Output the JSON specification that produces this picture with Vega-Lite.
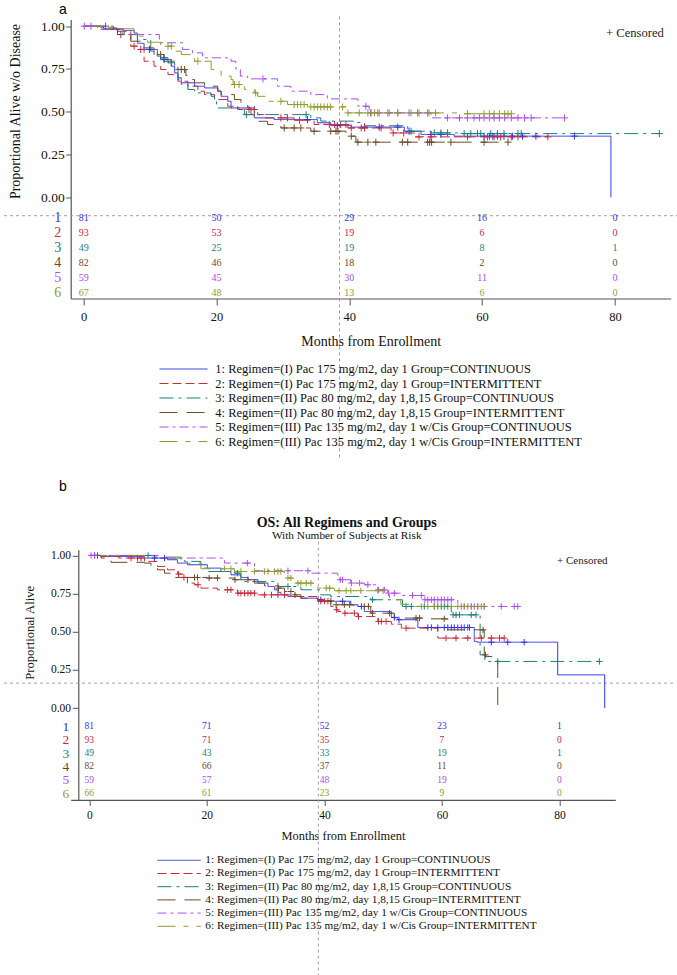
{
"$schema":"https://vega.github.io/schema/vega-lite/v6.json",
"background":"white",
"padding":{"left":2.7,"top":1.5,"right":0,"bottom":0},
"config":{"view":{"stroke":null},"axis":{"grid":false,"domainColor":"#555","tickColor":"#555","labelColor":"#111","titleColor":"#111","labelFont":"Liberation Serif","titleFont":"Liberation Serif","titleFontWeight":"normal","labelFlush":false,"labelOverlap":false},"text":{"font":"Liberation Serif"}},
"datasets":{
"riskA":[{"g":1,"t":0,"n":81},{"g":1,"t":20,"n":50},{"g":1,"t":40,"n":29},{"g":1,"t":60,"n":16},{"g":1,"t":80,"n":0},
{"g":2,"t":0,"n":93},{"g":2,"t":20,"n":53},{"g":2,"t":40,"n":19},{"g":2,"t":60,"n":6},{"g":2,"t":80,"n":0},
{"g":3,"t":0,"n":49},{"g":3,"t":20,"n":25},{"g":3,"t":40,"n":19},{"g":3,"t":60,"n":8},{"g":3,"t":80,"n":1},
{"g":4,"t":0,"n":82},{"g":4,"t":20,"n":46},{"g":4,"t":40,"n":18},{"g":4,"t":60,"n":2},{"g":4,"t":80,"n":0},
{"g":5,"t":0,"n":59},{"g":5,"t":20,"n":45},{"g":5,"t":40,"n":30},{"g":5,"t":60,"n":11},{"g":5,"t":80,"n":0},
{"g":6,"t":0,"n":67},{"g":6,"t":20,"n":48},{"g":6,"t":40,"n":13},{"g":6,"t":60,"n":6},{"g":6,"t":80,"n":0}],
"riskB":[{"g":1,"t":0,"n":81},{"g":1,"t":20,"n":71},{"g":1,"t":40,"n":52},{"g":1,"t":60,"n":23},{"g":1,"t":80,"n":1},
{"g":2,"t":0,"n":93},{"g":2,"t":20,"n":71},{"g":2,"t":40,"n":35},{"g":2,"t":60,"n":7},{"g":2,"t":80,"n":0},
{"g":3,"t":0,"n":49},{"g":3,"t":20,"n":43},{"g":3,"t":40,"n":33},{"g":3,"t":60,"n":19},{"g":3,"t":80,"n":1},
{"g":4,"t":0,"n":82},{"g":4,"t":20,"n":66},{"g":4,"t":40,"n":37},{"g":4,"t":60,"n":11},{"g":4,"t":80,"n":0},
{"g":5,"t":0,"n":59},{"g":5,"t":20,"n":57},{"g":5,"t":40,"n":48},{"g":5,"t":60,"n":19},{"g":5,"t":80,"n":0},
{"g":6,"t":0,"n":66},{"g":6,"t":20,"n":61},{"g":6,"t":40,"n":23},{"g":6,"t":60,"n":9},{"g":6,"t":80,"n":0}],
"kmA":[
{"g":1,"t":0,"s":1},{"g":1,"t":3,"s":0.985},{"g":1,"t":6,"s":0.975},{"g":1,"t":7.6,"s":0.96},{"g":1,"t":8.1,"s":0.9},{"g":1,"t":9.1,"s":0.864},{"g":1,"t":9.9,"s":0.864,"c":1},{"g":1,"t":11.1,"s":0.825},{"g":1,"t":11.6,"s":0.805},{"g":1,"t":12.1,"s":0.805,"c":1},{"g":1,"t":13.2,"s":0.766},{"g":1,"t":13.7,"s":0.727},{"g":1,"t":14.2,"s":0.698},{"g":1,"t":14.7,"s":0.669},{"g":1,"t":16.7,"s":0.649},{"g":1,"t":18.2,"s":0.639},{"g":1,"t":20.2,"s":0.62},{"g":1,"t":20.7,"s":0.59},{"g":1,"t":21.7,"s":0.561},{"g":1,"t":22.2,"s":0.522},{"g":1,"t":25.7,"s":0.464},{"g":1,"t":28.7,"s":0.454},{"g":1,"t":33.7,"s":0.454,"c":1},{"g":1,"t":35.2,"s":0.435},{"g":1,"t":37.2,"s":0.419},{"g":1,"t":38.2,"s":0.419,"c":1},{"g":1,"t":40.3,"s":0.41},{"g":1,"t":42.3,"s":0.41,"c":1},{"g":1,"t":44.5,"s":0.41,"c":1},{"g":1,"t":47.3,"s":0.41,"c":1},{"g":1,"t":48.3,"s":0.386},{"g":1,"t":49,"s":0.386,"c":1},{"g":1,"t":50.8,"s":0.367},{"g":1,"t":52.3,"s":0.367,"c":1},{"g":1,"t":53.8,"s":0.367,"c":1},{"g":1,"t":55.8,"s":0.357},{"g":1,"t":60.3,"s":0.357,"c":1},{"g":1,"t":61.1,"s":0.357,"c":1},{"g":1,"t":61.6,"s":0.357,"c":1},{"g":1,"t":62.3,"s":0.357,"c":1},{"g":1,"t":63.3,"s":0.357,"c":1},{"g":1,"t":64.6,"s":0.357,"c":1},{"g":1,"t":66.1,"s":0.357,"c":1},{"g":1,"t":68.1,"s":0.357,"c":1},{"g":1,"t":73.9,"s":0.357,"c":1},{"g":1,"t":79.4,"s":0},
{"g":2,"t":0,"s":1},{"g":2,"t":2.6,"s":0.99},{"g":2,"t":5.1,"s":0.97},{"g":2,"t":7.1,"s":0.883},{"g":2,"t":7.6,"s":0.883,"c":1},{"g":2,"t":8.1,"s":0.864},{"g":2,"t":8.6,"s":0.864,"c":1},{"g":2,"t":9.1,"s":0.795},{"g":2,"t":10.6,"s":0.766},{"g":2,"t":11.6,"s":0.747},{"g":2,"t":12.7,"s":0.717},{"g":2,"t":14.2,"s":0.678},{"g":2,"t":15.7,"s":0.649},{"g":2,"t":17.2,"s":0.62},{"g":2,"t":18.2,"s":0.6},{"g":2,"t":19.7,"s":0.571},{"g":2,"t":21.7,"s":0.532},{"g":2,"t":23.2,"s":0.513},{"g":2,"t":24.9,"s":0.513,"c":1},{"g":2,"t":25.7,"s":0.513,"c":1},{"g":2,"t":26.2,"s":0.483},{"g":2,"t":27.2,"s":0.464},{"g":2,"t":29.7,"s":0.464,"c":1},{"g":2,"t":30.7,"s":0.464,"c":1},{"g":2,"t":31.7,"s":0.45},{"g":2,"t":32.5,"s":0.45,"c":1},{"g":2,"t":34.7,"s":0.425},{"g":2,"t":37,"s":0.425,"c":1},{"g":2,"t":37.8,"s":0.425,"c":1},{"g":2,"t":38.7,"s":0.425,"c":1},{"g":2,"t":39.5,"s":0.425,"c":1},{"g":2,"t":39.8,"s":0.405},{"g":2,"t":40.3,"s":0.405,"c":1},{"g":2,"t":41.8,"s":0.405,"c":1},{"g":2,"t":42.3,"s":0.405,"c":1},{"g":2,"t":44.8,"s":0.405,"c":1},{"g":2,"t":46.3,"s":0.376},{"g":2,"t":46.6,"s":0.376,"c":1},{"g":2,"t":48.2,"s":0.376,"c":1},{"g":2,"t":49.8,"s":0.353},{"g":2,"t":50.5,"s":0.353,"c":1},{"g":2,"t":52.3,"s":0.353,"c":1},{"g":2,"t":57.8,"s":0.353,"c":1},{"g":2,"t":60.8,"s":0.353,"c":1},{"g":2,"t":61.8,"s":0.353,"c":1},{"g":2,"t":62.8,"s":0.353,"c":1},{"g":2,"t":64.4,"s":0.353,"c":1},{"g":2,"t":65.4,"s":0.353,"c":1},{"g":2,"t":69.9,"s":0.353,"c":1},
{"g":3,"t":0,"s":1},{"g":3,"t":3.3,"s":1,"c":1},{"g":3,"t":4.5,"s":0.98},{"g":3,"t":6.1,"s":0.951},{"g":3,"t":8.1,"s":0.922},{"g":3,"t":10.1,"s":0.854},{"g":3,"t":11.1,"s":0.815},{"g":3,"t":12.1,"s":0.815,"c":1},{"g":3,"t":12.7,"s":0.786},{"g":3,"t":13.2,"s":0.786,"c":1},{"g":3,"t":13.7,"s":0.747},{"g":3,"t":14.2,"s":0.688},{"g":3,"t":14.7,"s":0.659},{"g":3,"t":15.7,"s":0.63},{"g":3,"t":16.7,"s":0.61},{"g":3,"t":19.2,"s":0.59},{"g":3,"t":19.7,"s":0.561},{"g":3,"t":20,"s":0.522},{"g":3,"t":24.2,"s":0.483},{"g":3,"t":24.5,"s":0.483,"c":1},{"g":3,"t":33.5,"s":0.483,"c":1},{"g":3,"t":34.2,"s":0.464},{"g":3,"t":35.7,"s":0.445},{"g":3,"t":40.8,"s":0.437},{"g":3,"t":42.3,"s":0.418},{"g":3,"t":48.8,"s":0.386},{"g":3,"t":49.3,"s":0.386,"c":1},{"g":3,"t":52.3,"s":0.376},{"g":3,"t":52.8,"s":0.376,"c":1},{"g":3,"t":53.8,"s":0.376,"c":1},{"g":3,"t":54.8,"s":0.376,"c":1},{"g":3,"t":56.3,"s":0.372},{"g":3,"t":57.3,"s":0.372,"c":1},{"g":3,"t":58.3,"s":0.372,"c":1},{"g":3,"t":59.3,"s":0.372,"c":1},{"g":3,"t":59.8,"s":0.372,"c":1},{"g":3,"t":61.3,"s":0.372,"c":1},{"g":3,"t":62.3,"s":0.372,"c":1},{"g":3,"t":63.3,"s":0.372,"c":1},{"g":3,"t":65.4,"s":0.372,"c":1},{"g":3,"t":65.9,"s":0.372,"c":1},{"g":3,"t":86.7,"s":0.372,"c":1},
{"g":4,"t":0,"s":1},{"g":4,"t":2.6,"s":0.981},{"g":4,"t":5.1,"s":0.951},{"g":4,"t":5.6,"s":0.951,"c":1},{"g":4,"t":7.1,"s":0.912},{"g":4,"t":8.6,"s":0.873},{"g":4,"t":10.6,"s":0.834},{"g":4,"t":11.6,"s":0.834,"c":1},{"g":4,"t":12.1,"s":0.795},{"g":4,"t":13.7,"s":0.776},{"g":4,"t":14.2,"s":0.747},{"g":4,"t":14.7,"s":0.747,"c":1},{"g":4,"t":15.2,"s":0.747,"c":1},{"g":4,"t":15.4,"s":0.712},{"g":4,"t":15.7,"s":0.688},{"g":4,"t":16.7,"s":0.669},{"g":4,"t":18.2,"s":0.649},{"g":4,"t":20.2,"s":0.62},{"g":4,"t":20.7,"s":0.6},{"g":4,"t":22.7,"s":0.571},{"g":4,"t":23.7,"s":0.542},{"g":4,"t":24.7,"s":0.522},{"g":4,"t":25.2,"s":0.483},{"g":4,"t":25.7,"s":0.444},{"g":4,"t":27.7,"s":0.425},{"g":4,"t":29.7,"s":0.405},{"g":4,"t":30.2,"s":0.405,"c":1},{"g":4,"t":31.7,"s":0.405,"c":1},{"g":4,"t":32.7,"s":0.405,"c":1},{"g":4,"t":34.2,"s":0.386},{"g":4,"t":34.7,"s":0.386,"c":1},{"g":4,"t":37.2,"s":0.386,"c":1},{"g":4,"t":38,"s":0.386,"c":1},{"g":4,"t":38.3,"s":0.386,"c":1},{"g":4,"t":39.5,"s":0.357},{"g":4,"t":40.3,"s":0.357,"c":1},{"g":4,"t":41,"s":0.322},{"g":4,"t":41.3,"s":0.322,"c":1},{"g":4,"t":42.8,"s":0.322,"c":1},{"g":4,"t":44,"s":0.322,"c":1},{"g":4,"t":48,"s":0.322,"c":1},{"g":4,"t":48.8,"s":0.322,"c":1},{"g":4,"t":51.8,"s":0.322,"c":1},{"g":4,"t":52.1,"s":0.322,"c":1},{"g":4,"t":52.4,"s":0.322,"c":1},{"g":4,"t":55.3,"s":0.322,"c":1},{"g":4,"t":60.3,"s":0.322,"c":1},{"g":4,"t":63.9,"s":0.322,"c":1},
{"g":5,"t":0,"s":1},{"g":5,"t":0.1,"s":1,"c":1},{"g":5,"t":1.1,"s":1,"c":1},{"g":5,"t":2.1,"s":0.981},{"g":5,"t":5.9,"s":0.951},{"g":5,"t":11.4,"s":0.903},{"g":5,"t":14.9,"s":0.864},{"g":5,"t":16.4,"s":0.844},{"g":5,"t":17.9,"s":0.815},{"g":5,"t":22.2,"s":0.795},{"g":5,"t":22.9,"s":0.75},{"g":5,"t":23.6,"s":0.708},{"g":5,"t":24.7,"s":0.692},{"g":5,"t":27,"s":0.692,"c":1},{"g":5,"t":29.2,"s":0.649},{"g":5,"t":31.2,"s":0.62},{"g":5,"t":34.2,"s":0.6},{"g":5,"t":36.7,"s":0.575},{"g":5,"t":41.3,"s":0.532},{"g":5,"t":42.5,"s":0.532,"c":1},{"g":5,"t":43,"s":0.493},{"g":5,"t":43.2,"s":0.493,"c":1},{"g":5,"t":44.3,"s":0.493,"c":1},{"g":5,"t":46,"s":0.493,"c":1},{"g":5,"t":47.3,"s":0.493,"c":1},{"g":5,"t":49,"s":0.493,"c":1},{"g":5,"t":50.3,"s":0.493,"c":1},{"g":5,"t":51.8,"s":0.493,"c":1},{"g":5,"t":52.3,"s":0.464},{"g":5,"t":54.8,"s":0.464,"c":1},{"g":5,"t":56.6,"s":0.464,"c":1},{"g":5,"t":57.8,"s":0.464,"c":1},{"g":5,"t":58.8,"s":0.464,"c":1},{"g":5,"t":59.6,"s":0.464,"c":1},{"g":5,"t":60.3,"s":0.464,"c":1},{"g":5,"t":61.1,"s":0.464,"c":1},{"g":5,"t":61.8,"s":0.464,"c":1},{"g":5,"t":62.6,"s":0.464,"c":1},{"g":5,"t":63.4,"s":0.464,"c":1},{"g":5,"t":64.4,"s":0.464,"c":1},{"g":5,"t":65.4,"s":0.464,"c":1},{"g":5,"t":66.4,"s":0.464,"c":1},{"g":5,"t":67.4,"s":0.464,"c":1},{"g":5,"t":72.4,"s":0.464,"c":1},
{"g":6,"t":0,"s":1},{"g":6,"t":2.6,"s":0.985},{"g":6,"t":7.6,"s":0.942},{"g":6,"t":9.6,"s":0.906},{"g":6,"t":11.6,"s":0.883},{"g":6,"t":12.7,"s":0.883,"c":1},{"g":6,"t":13.2,"s":0.883,"c":1},{"g":6,"t":13.7,"s":0.854},{"g":6,"t":14.7,"s":0.834},{"g":6,"t":16.7,"s":0.795},{"g":6,"t":17.2,"s":0.795,"c":1},{"g":6,"t":19.2,"s":0.747},{"g":6,"t":20.7,"s":0.708},{"g":6,"t":22.2,"s":0.688},{"g":6,"t":22.5,"s":0.659},{"g":6,"t":22.7,"s":0.659,"c":1},{"g":6,"t":23.4,"s":0.659,"c":1},{"g":6,"t":24.2,"s":0.63},{"g":6,"t":25.7,"s":0.61},{"g":6,"t":25.9,"s":0.61,"c":1},{"g":6,"t":26.2,"s":0.59},{"g":6,"t":27.7,"s":0.561},{"g":6,"t":29.7,"s":0.561,"c":1},{"g":6,"t":30.7,"s":0.542},{"g":6,"t":31.7,"s":0.542,"c":1},{"g":6,"t":32.2,"s":0.542,"c":1},{"g":6,"t":32.7,"s":0.542,"c":1},{"g":6,"t":33.2,"s":0.542,"c":1},{"g":6,"t":33.7,"s":0.528},{"g":6,"t":34.2,"s":0.528,"c":1},{"g":6,"t":34.7,"s":0.528,"c":1},{"g":6,"t":35.2,"s":0.528,"c":1},{"g":6,"t":35.7,"s":0.528,"c":1},{"g":6,"t":36.2,"s":0.528,"c":1},{"g":6,"t":36.7,"s":0.528,"c":1},{"g":6,"t":37.2,"s":0.528,"c":1},{"g":6,"t":39,"s":0.528,"c":1},{"g":6,"t":39.5,"s":0.493},{"g":6,"t":39.8,"s":0.493,"c":1},{"g":6,"t":41.5,"s":0.493,"c":1},{"g":6,"t":42.8,"s":0.493,"c":1},{"g":6,"t":43.3,"s":0.493,"c":1},{"g":6,"t":43.8,"s":0.493,"c":1},{"g":6,"t":44.5,"s":0.493,"c":1},{"g":6,"t":45.8,"s":0.493,"c":1},{"g":6,"t":47.3,"s":0.493,"c":1},{"g":6,"t":49.3,"s":0.493,"c":1},{"g":6,"t":50.5,"s":0.493,"c":1},{"g":6,"t":52,"s":0.493,"c":1},{"g":6,"t":53,"s":0.493,"c":1},{"g":6,"t":56.3,"s":0.488},{"g":6,"t":57.8,"s":0.488,"c":1},{"g":6,"t":60.3,"s":0.488,"c":1},{"g":6,"t":61.1,"s":0.488,"c":1},{"g":6,"t":61.8,"s":0.488,"c":1},{"g":6,"t":62.6,"s":0.488,"c":1},{"g":6,"t":63.4,"s":0.488,"c":1},{"g":6,"t":63.9,"s":0.488,"c":1},{"g":6,"t":64.4,"s":0.488,"c":1}],
"kmB":[
{"g":1,"t":0,"s":1},{"g":1,"t":2,"s":0.993},{"g":1,"t":9.4,"s":0.983},{"g":1,"t":11.1,"s":0.983,"c":1},{"g":1,"t":12.8,"s":0.983,"c":1},{"g":1,"t":13.3,"s":0.972},{"g":1,"t":15,"s":0.95},{"g":1,"t":16.7,"s":0.939},{"g":1,"t":20.1,"s":0.917},{"g":1,"t":22.4,"s":0.895},{"g":1,"t":24.1,"s":0.873},{"g":1,"t":25.8,"s":0.856},{"g":1,"t":27,"s":0.841},{"g":1,"t":28.7,"s":0.819},{"g":1,"t":30.4,"s":0.797},{"g":1,"t":31.5,"s":0.775},{"g":1,"t":32.1,"s":0.758},{"g":1,"t":32.6,"s":0.742},{"g":1,"t":33.8,"s":0.731},{"g":1,"t":36,"s":0.72},{"g":1,"t":38.9,"s":0.71},{"g":1,"t":39.4,"s":0.71,"c":1},{"g":1,"t":39.8,"s":0.7},{"g":1,"t":43.1,"s":0.7,"c":1},{"g":1,"t":44.5,"s":0.677},{"g":1,"t":45.7,"s":0.666},{"g":1,"t":46.3,"s":0.666,"c":1},{"g":1,"t":46.8,"s":0.633},{"g":1,"t":51.4,"s":0.594},{"g":1,"t":51.9,"s":0.594,"c":1},{"g":1,"t":52.5,"s":0.579},{"g":1,"t":52.7,"s":0.579,"c":1},{"g":1,"t":55.9,"s":0.528},{"g":1,"t":57.6,"s":0.528,"c":1},{"g":1,"t":58.2,"s":0.528,"c":1},{"g":1,"t":59.3,"s":0.528,"c":1},{"g":1,"t":60.4,"s":0.528,"c":1},{"g":1,"t":61,"s":0.528,"c":1},{"g":1,"t":61.6,"s":0.528,"c":1},{"g":1,"t":62.1,"s":0.528,"c":1},{"g":1,"t":62.7,"s":0.528,"c":1},{"g":1,"t":63.3,"s":0.528,"c":1},{"g":1,"t":63.8,"s":0.528,"c":1},{"g":1,"t":64.4,"s":0.528,"c":1},{"g":1,"t":64.7,"s":0.528,"c":1},{"g":1,"t":65.5,"s":0.437},{"g":1,"t":66,"s":0.432},{"g":1,"t":68.4,"s":0.432,"c":1},{"g":1,"t":71.2,"s":0.432,"c":1},{"g":1,"t":74,"s":0.432,"c":1},{"g":1,"t":79.7,"s":0.218},{"g":1,"t":87.7,"s":0},
{"g":2,"t":0,"s":1},{"g":2,"t":2,"s":0.993},{"g":2,"t":5,"s":0.983},{"g":2,"t":7.1,"s":0.983,"c":1},{"g":2,"t":8.2,"s":0.983,"c":1},{"g":2,"t":8.8,"s":0.983,"c":1},{"g":2,"t":9.4,"s":0.961},{"g":2,"t":11.6,"s":0.928},{"g":2,"t":13.3,"s":0.906},{"g":2,"t":15,"s":0.878},{"g":2,"t":15.2,"s":0.878,"c":1},{"g":2,"t":15.9,"s":0.856},{"g":2,"t":16.1,"s":0.856,"c":1},{"g":2,"t":16.7,"s":0.819},{"g":2,"t":17.9,"s":0.808},{"g":2,"t":18.5,"s":0.808,"c":1},{"g":2,"t":19,"s":0.786},{"g":2,"t":21.8,"s":0.775},{"g":2,"t":23.5,"s":0.775,"c":1},{"g":2,"t":24.1,"s":0.775,"c":1},{"g":2,"t":25.2,"s":0.753},{"g":2,"t":25.3,"s":0.753,"c":1},{"g":2,"t":25.8,"s":0.753,"c":1},{"g":2,"t":26.4,"s":0.753,"c":1},{"g":2,"t":27,"s":0.753,"c":1},{"g":2,"t":27.5,"s":0.753,"c":1},{"g":2,"t":28.1,"s":0.753,"c":1},{"g":2,"t":28.5,"s":0.742},{"g":2,"t":29.8,"s":0.742,"c":1},{"g":2,"t":31,"s":0.742,"c":1},{"g":2,"t":32.1,"s":0.742,"c":1},{"g":2,"t":33.2,"s":0.742,"c":1},{"g":2,"t":34.3,"s":0.731},{"g":2,"t":38.9,"s":0.7},{"g":2,"t":39.4,"s":0.7,"c":1},{"g":2,"t":40,"s":0.7,"c":1},{"g":2,"t":40.6,"s":0.7,"c":1},{"g":2,"t":41.1,"s":0.666},{"g":2,"t":42,"s":0.644},{"g":2,"t":42.1,"s":0.644,"c":1},{"g":2,"t":42.3,"s":0.633},{"g":2,"t":43.4,"s":0.622},{"g":2,"t":43.5,"s":0.622,"c":1},{"g":2,"t":45.1,"s":0.622,"c":1},{"g":2,"t":45.7,"s":0.6},{"g":2,"t":45.8,"s":0.6,"c":1},{"g":2,"t":49.1,"s":0.568},{"g":2,"t":49.2,"s":0.568,"c":1},{"g":2,"t":49.7,"s":0.568,"c":1},{"g":2,"t":50.5,"s":0.568,"c":1},{"g":2,"t":51.4,"s":0.55},{"g":2,"t":53.1,"s":0.524},{"g":2,"t":53.9,"s":0.524,"c":1},{"g":2,"t":59.3,"s":0.459},{"g":2,"t":60.7,"s":0.459,"c":1},{"g":2,"t":62.4,"s":0.459,"c":1},{"g":2,"t":64.4,"s":0.459,"c":1},{"g":2,"t":66.7,"s":0.459,"c":1},{"g":2,"t":68.4,"s":0.459,"c":1},{"g":2,"t":69.8,"s":0.459,"c":1},{"g":2,"t":70.6,"s":0.459,"c":1},
{"g":3,"t":0,"s":1},{"g":3,"t":10,"s":1,"c":1},{"g":3,"t":11.1,"s":0.983},{"g":3,"t":16.2,"s":0.961},{"g":3,"t":19,"s":0.917},{"g":3,"t":20.1,"s":0.895},{"g":3,"t":24.7,"s":0.884},{"g":3,"t":25.2,"s":0.884,"c":1},{"g":3,"t":25.8,"s":0.83},{"g":3,"t":32.1,"s":0.797},{"g":3,"t":33.8,"s":0.797,"c":1},{"g":3,"t":36,"s":0.775},{"g":3,"t":39.4,"s":0.742},{"g":3,"t":41.1,"s":0.731},{"g":3,"t":47.9,"s":0.71},{"g":3,"t":48.2,"s":0.71,"c":1},{"g":3,"t":53.3,"s":0.666},{"g":3,"t":53.9,"s":0.666,"c":1},{"g":3,"t":54.8,"s":0.666,"c":1},{"g":3,"t":57,"s":0.666,"c":1},{"g":3,"t":58.7,"s":0.666,"c":1},{"g":3,"t":59.3,"s":0.666,"c":1},{"g":3,"t":59.9,"s":0.666,"c":1},{"g":3,"t":60.4,"s":0.666,"c":1},{"g":3,"t":61,"s":0.666,"c":1},{"g":3,"t":61.6,"s":0.611},{"g":3,"t":61.9,"s":0.611,"c":1},{"g":3,"t":62.4,"s":0.611,"c":1},{"g":3,"t":63,"s":0.611,"c":1},{"g":3,"t":65,"s":0.611,"c":1},{"g":3,"t":65.8,"s":0.611,"c":1},{"g":3,"t":66.5,"s":0.349},{"g":3,"t":67.3,"s":0.306},{"g":3,"t":69.5,"s":0.306,"c":1},{"g":3,"t":86.8,"s":0.306,"c":1},
{"g":4,"t":0,"s":1},{"g":4,"t":0.9,"s":1,"c":1},{"g":4,"t":1.4,"s":1,"c":1},{"g":4,"t":2,"s":0.983},{"g":4,"t":3.7,"s":0.955},{"g":4,"t":9.4,"s":0.95},{"g":4,"t":10.5,"s":0.928},{"g":4,"t":11.6,"s":0.906},{"g":4,"t":12.8,"s":0.884},{"g":4,"t":13.9,"s":0.862},{"g":4,"t":14.5,"s":0.856},{"g":4,"t":17.9,"s":0.856,"c":1},{"g":4,"t":18.4,"s":0.856,"c":1},{"g":4,"t":20.1,"s":0.852},{"g":4,"t":20.4,"s":0.852,"c":1},{"g":4,"t":21.8,"s":0.852,"c":1},{"g":4,"t":24.7,"s":0.841},{"g":4,"t":24.8,"s":0.841,"c":1},{"g":4,"t":27,"s":0.841,"c":1},{"g":4,"t":28.1,"s":0.819},{"g":4,"t":29.8,"s":0.801},{"g":4,"t":32.1,"s":0.786},{"g":4,"t":32.2,"s":0.786,"c":1},{"g":4,"t":33.2,"s":0.764},{"g":4,"t":34.3,"s":0.764,"c":1},{"g":4,"t":34.9,"s":0.742},{"g":4,"t":35,"s":0.742,"c":1},{"g":4,"t":36,"s":0.72},{"g":4,"t":38.9,"s":0.703},{"g":4,"t":41.1,"s":0.703,"c":1},{"g":4,"t":41.7,"s":0.677},{"g":4,"t":42,"s":0.677,"c":1},{"g":4,"t":43.4,"s":0.677,"c":1},{"g":4,"t":44.3,"s":0.677,"c":1},{"g":4,"t":45,"s":0.666},{"g":4,"t":46.8,"s":0.666,"c":1},{"g":4,"t":47.5,"s":0.666,"c":1},{"g":4,"t":47.9,"s":0.622},{"g":4,"t":48.2,"s":0.622,"c":1},{"g":4,"t":51.1,"s":0.622,"c":1},{"g":4,"t":51.9,"s":0.59},{"g":4,"t":55.6,"s":0.59,"c":1},{"g":4,"t":56.2,"s":0.59,"c":1},{"g":4,"t":57,"s":0.585},{"g":4,"t":60.4,"s":0.585,"c":1},{"g":4,"t":61,"s":0.513},{"g":4,"t":67,"s":0.513,"c":1},{"g":4,"t":67.2,"s":0.349},{"g":4,"t":67.4,"s":0.349,"c":1},{"g":4,"t":67.5,"s":0.338},{"g":4,"t":69.5,"s":0},
{"g":5,"t":0,"s":1},{"g":5,"t":0.3,"s":1,"c":1},{"g":5,"t":0.9,"s":1,"c":1},{"g":5,"t":12,"s":0.983},{"g":5,"t":23,"s":0.95},{"g":5,"t":26.9,"s":0.95,"c":1},{"g":5,"t":28.1,"s":0.9},{"g":5,"t":33.8,"s":0.9,"c":1},{"g":5,"t":37.2,"s":0.9,"c":1},{"g":5,"t":37.7,"s":0.884},{"g":5,"t":42.3,"s":0.862},{"g":5,"t":42.6,"s":0.841},{"g":5,"t":42.7,"s":0.841,"c":1},{"g":5,"t":43.1,"s":0.841,"c":1},{"g":5,"t":44.5,"s":0.819},{"g":5,"t":44.6,"s":0.819,"c":1},{"g":5,"t":46,"s":0.819,"c":1},{"g":5,"t":46.8,"s":0.808},{"g":5,"t":47.4,"s":0.808,"c":1},{"g":5,"t":49.1,"s":0.775},{"g":5,"t":49.2,"s":0.775,"c":1},{"g":5,"t":50.2,"s":0.775,"c":1},{"g":5,"t":50.8,"s":0.753},{"g":5,"t":50.9,"s":0.753,"c":1},{"g":5,"t":51.9,"s":0.753,"c":1},{"g":5,"t":53.3,"s":0.738},{"g":5,"t":55,"s":0.738,"c":1},{"g":5,"t":56.5,"s":0.738,"c":1},{"g":5,"t":57,"s":0.71},{"g":5,"t":57.1,"s":0.71,"c":1},{"g":5,"t":57.6,"s":0.71,"c":1},{"g":5,"t":58.2,"s":0.71,"c":1},{"g":5,"t":58.7,"s":0.71,"c":1},{"g":5,"t":59.3,"s":0.71,"c":1},{"g":5,"t":59.9,"s":0.71,"c":1},{"g":5,"t":60.4,"s":0.71,"c":1},{"g":5,"t":61,"s":0.71,"c":1},{"g":5,"t":61.6,"s":0.71,"c":1},{"g":5,"t":62.7,"s":0.666},{"g":5,"t":63.3,"s":0.666,"c":1},{"g":5,"t":63.8,"s":0.666,"c":1},{"g":5,"t":64.4,"s":0.666,"c":1},{"g":5,"t":65,"s":0.666,"c":1},{"g":5,"t":65.5,"s":0.666,"c":1},{"g":5,"t":66.1,"s":0.666,"c":1},{"g":5,"t":66.7,"s":0.666,"c":1},{"g":5,"t":67.2,"s":0.666,"c":1},{"g":5,"t":70.1,"s":0.666,"c":1},{"g":5,"t":72.3,"s":0.666,"c":1},{"g":5,"t":72.9,"s":0.666,"c":1},
{"g":6,"t":0,"s":1},{"g":6,"t":9.4,"s":0.99},{"g":6,"t":15.6,"s":0.972},{"g":6,"t":16.7,"s":0.95},{"g":6,"t":19,"s":0.913},{"g":6,"t":23,"s":0.913,"c":1},{"g":6,"t":24.1,"s":0.913,"c":1},{"g":6,"t":24.7,"s":0.895},{"g":6,"t":25.8,"s":0.895,"c":1},{"g":6,"t":28.1,"s":0.895,"c":1},{"g":6,"t":29.8,"s":0.895,"c":1},{"g":6,"t":30.4,"s":0.895,"c":1},{"g":6,"t":31.5,"s":0.895,"c":1},{"g":6,"t":32.1,"s":0.895,"c":1},{"g":6,"t":32.6,"s":0.895,"c":1},{"g":6,"t":33.2,"s":0.852},{"g":6,"t":33.8,"s":0.852,"c":1},{"g":6,"t":34.3,"s":0.852,"c":1},{"g":6,"t":34.9,"s":0.819},{"g":6,"t":35.5,"s":0.819,"c":1},{"g":6,"t":36,"s":0.819,"c":1},{"g":6,"t":36.9,"s":0.819,"c":1},{"g":6,"t":37.7,"s":0.819,"c":1},{"g":6,"t":38.9,"s":0.786},{"g":6,"t":40.3,"s":0.786,"c":1},{"g":6,"t":40.9,"s":0.786,"c":1},{"g":6,"t":41.7,"s":0.769},{"g":6,"t":42.5,"s":0.769,"c":1},{"g":6,"t":43.7,"s":0.769,"c":1},{"g":6,"t":44.5,"s":0.769,"c":1},{"g":6,"t":46.2,"s":0.769,"c":1},{"g":6,"t":49.1,"s":0.769,"c":1},{"g":6,"t":50,"s":0.769,"c":1},{"g":6,"t":50.5,"s":0.742},{"g":6,"t":51.1,"s":0.71},{"g":6,"t":53,"s":0.68},{"g":6,"t":55,"s":0.666},{"g":6,"t":56.5,"s":0.666,"c":1},{"g":6,"t":57.6,"s":0.666,"c":1},{"g":6,"t":58.7,"s":0.666,"c":1},{"g":6,"t":59.9,"s":0.666,"c":1},{"g":6,"t":61.6,"s":0.666,"c":1},{"g":6,"t":62.7,"s":0.666,"c":1},{"g":6,"t":63.8,"s":0.666,"c":1},{"g":6,"t":65,"s":0.666,"c":1},{"g":6,"t":66.1,"s":0.666,"c":1},{"g":6,"t":67.2,"s":0.666,"c":1}]
},
"bounds":"flush",
"spacing":251.3,
"resolve":{"scale":{"x":"independent","y":"independent","color":"independent","strokeDash":"independent"},"axis":{"x":"independent","y":"independent"},"legend":{"color":"independent","strokeDash":"independent"}},
"vconcat":[
{
"width":600,"height":279,
"resolve":{"scale":{"y":"independent"},"axis":{"y":"independent"}},
"layer":[
{"layer":[
{"data":{"values":[{}]},"mark":{"type":"rule","stroke":"#a0a0a0","strokeDash":[3,3],"strokeWidth":1},"encoding":{"x":{"datum":38.53,"type":"quantitative"},"y":{"datum":1.057,"type":"quantitative"},"y2":{"datum":-1.522}}},
{"data":{"values":[{}]},"mark":{"type":"rule","stroke":"#a0a0a0","strokeDash":[3,3],"strokeWidth":1},"encoding":{"x":{"datum":-12,"type":"quantitative"},"x2":{"datum":89.4},"y":{"datum":-0.108,"type":"quantitative"}}},
{"data":{"name":"kmA"},"mark":{"type":"line","interpolate":"step-after","strokeWidth":1},
"encoding":{
"x":{"field":"t","type":"quantitative","scale":{"domain":[-1.95,88.4],"nice":false,"zero":false},"axis":{"values":[0,20,40,60,80],"title":"Months from Enrollment","titleFontSize":14,"labelFontSize":12.5,"tickSize":6.5,"labelPadding":5.5,"titlePadding":11,"domainWidth":1.2}},
"y":{"field":"s","type":"quantitative","scale":{"domain":[-0.592,1.039],"nice":false,"zero":false},"axis":{"orient":"left","values":[0,0.25,0.5,0.75,1],"format":".2f","title":"Proportional Alive w/o Disease","titleFontSize":14,"titleX":-54.7,"titleY":91.5,"titleBaseline":"middle","titleAlign":"center","titleAngle":-90,"labelFontSize":13.5,"tickSize":5,"labelPadding":1.5,"domainWidth":1.2}},
"color":{"field":"g","type":"nominal","scale":{"domain":[1,2,3,4,5,6],"range":["#3030f0","#cc2a3c","#19807a","#6e4824","#b04cf0","#8f9d2e"]},"legend":{"title":null,"orient":"none","legendX":88.3,"legendY":343,"direction":"vertical","symbolType":"M-1,0H7","symbolSize":144,"symbolStrokeWidth":1,"labelFont":"Liberation Serif","labelFontSize":12.5,"labelColor":"#111","labelOffset":43.3,"rowPadding":1.5,"padding":0,"labelLimit":0,"labelExpr":"['','1: Regimen=(I) Pac 175 mg/m2, day 1 Group=CONTINUOUS','2: Regimen=(I) Pac 175 mg/m2, day 1 Group=INTERMITTENT','3: Regimen=(II) Pac 80 mg/m2, day 1,8,15 Group=CONTINUOUS','4: Regimen=(II) Pac 80 mg/m2, day 1,8,15 Group=INTERMITTENT','5: Regimen=(III) Pac 135 mg/m2, day 1 w/Cis Group=CONTINUOUS','6: Regimen=(III) Pac 135 mg/m2, day 1 w/Cis Group=INTERMITTENT'][datum.value]"}},
"strokeDash":{"field":"g","type":"nominal","scale":{"domain":[1,2,3,4,5,6],"range":[[1,0],[9,4],[14,5,3,5],[18,9],[9,4,3,4],[18,8,5,8]]},"legend":{"title":null,"orient":"none","legendX":88.3,"legendY":343,"direction":"vertical","symbolType":"M-1,0H7","symbolSize":144,"symbolStrokeWidth":1,"labelFont":"Liberation Serif","labelFontSize":12.5,"labelColor":"#111","labelOffset":43.3,"rowPadding":1.5,"padding":0,"labelLimit":0,"labelExpr":"['','1: Regimen=(I) Pac 175 mg/m2, day 1 Group=CONTINUOUS','2: Regimen=(I) Pac 175 mg/m2, day 1 Group=INTERMITTENT','3: Regimen=(II) Pac 80 mg/m2, day 1,8,15 Group=CONTINUOUS','4: Regimen=(II) Pac 80 mg/m2, day 1,8,15 Group=INTERMITTENT','5: Regimen=(III) Pac 135 mg/m2, day 1 w/Cis Group=CONTINUOUS','6: Regimen=(III) Pac 135 mg/m2, day 1 w/Cis Group=INTERMITTENT'][datum.value]"}},
"order":{"field":"t","type":"quantitative"}}},
{"data":{"name":"kmA"},"transform":[{"filter":"datum.c==1"}],"mark":{"type":"point","shape":"M-1,0H1M0,-1V1","filled":false,"strokeWidth":1,"size":50,"opacity":1},
"encoding":{"x":{"field":"t","type":"quantitative"},"y":{"field":"s","type":"quantitative"},"color":{"field":"g","type":"nominal","legend":null}}},
{"data":{"values":[{}]},"mark":{"type":"text","font":"Liberation Sans","fontSize":14,"align":"center","baseline":"middle","color":"#000"},"encoding":{"x":{"datum":-3.12,"type":"quantitative"},"y":{"datum":1.0975,"type":"quantitative"},"text":{"value":"a"}}},
{"data":{"values":[{}]},"mark":{"type":"text","fontSize":12.6,"align":"left","baseline":"middle","color":"#222"},"encoding":{"x":{"datum":78.67,"type":"quantitative"},"y":{"datum":0.961,"type":"quantitative"},"text":{"value":"+ Censored"}}}
]},
{"data":{"name":"riskA"},"mark":{"type":"text","fontSize":10,"baseline":"middle","align":"center"},
"encoding":{"x":{"field":"t","type":"quantitative"},
"y":{"field":"g","type":"quantitative","scale":{"domain":[-12.22,6.38],"reverse":true,"nice":false,"zero":false},"axis":{"orient":"left","values":[1,2,3,4,5,6],"domain":false,"ticks":false,"title":null,"labelOverlap":false,"labelFontSize":14,"labelPadding":10,"labelColor":{"condition":[{"test":"datum.value==1","value":"#3030f0"},{"test":"datum.value==2","value":"#cc2a3c"},{"test":"datum.value==3","value":"#19807a"},{"test":"datum.value==4","value":"#6e4824"},{"test":"datum.value==5","value":"#b04cf0"}],"value":"#8f9d2e"}}},
"text":{"field":"n","type":"quantitative"},
"color":{"field":"g","type":"nominal","legend":null}}}
]
},
{
"width":544.6,"height":250,
"resolve":{"scale":{"y":"independent"},"axis":{"y":"independent"}},
"layer":[
{"layer":[
{"data":{"values":[{}]},"mark":{"type":"rule","stroke":"#a0a0a0","strokeDash":[3,3],"strokeWidth":1},"encoding":{"x":{"datum":38.98,"type":"quantitative"},"y":{"datum":1.091,"type":"quantitative"},"y2":{"datum":-1.757}}},
{"data":{"values":[{}]},"mark":{"type":"rule","stroke":"#a0a0a0","strokeDash":[3,3],"strokeWidth":1},"encoding":{"x":{"datum":-14.52,"type":"quantitative"},"x2":{"datum":99.5},"y":{"datum":0.164,"type":"quantitative"}}},
{"data":{"name":"kmB"},"mark":{"type":"line","interpolate":"step-after","strokeWidth":1},
"encoding":{
"x":{"field":"t","type":"quantitative","scale":{"domain":[-3.164,89.5],"nice":false,"zero":false},"axis":{"values":[0,20,40,60,80],"title":"Months from Enrollment","titleFontSize":12.4,"labelFontSize":11.5,"tickSize":5.7,"labelPadding":4,"titlePadding":8.5,"domainWidth":1.2}},
"y":{"field":"s","type":"quantitative","scale":{"domain":[-0.6,1.037],"nice":false,"zero":false},"axis":{"orient":"left","offset":-7.6,"values":[0,0.25,0.5,0.75,1],"format":".2f","title":"Proportional Alive","titleFontSize":12.7,"titleX":-49,"titleY":82.5,"titleBaseline":"middle","titleAlign":"center","titleAngle":-90,"labelFontSize":11.5,"tickSize":6,"labelPadding":1.7,"domainWidth":1.2}},
"color":{"field":"g","type":"nominal","scale":{"domain":[1,2,3,4,5,6],"range":["#3030f0","#cc2a3c","#19807a","#6e4824","#b04cf0","#8f9d2e"]},"legend":{"title":null,"orient":"none","legendX":86.3,"legendY":304,"direction":"vertical","symbolType":"M-1,0H6.2","symbolSize":144,"symbolStrokeWidth":1,"labelFont":"Liberation Serif","labelFontSize":11.3,"labelColor":"#111","labelOffset":35.3,"rowPadding":1.2,"padding":0,"labelLimit":0,"labelExpr":"['','1: Regimen=(I) Pac 175 mg/m2, day 1 Group=CONTINUOUS','2: Regimen=(I) Pac 175 mg/m2, day 1 Group=INTERMITTENT','3: Regimen=(II) Pac 80 mg/m2, day 1,8,15 Group=CONTINUOUS','4: Regimen=(II) Pac 80 mg/m2, day 1,8,15 Group=INTERMITTENT','5: Regimen=(III) Pac 135 mg/m2, day 1 w/Cis Group=CONTINUOUS','6: Regimen=(III) Pac 135 mg/m2, day 1 w/Cis Group=INTERMITTENT'][datum.value]"}},
"strokeDash":{"field":"g","type":"nominal","scale":{"domain":[1,2,3,4,5,6],"range":[[1,0],[9,4],[14,5,3,5],[18,9],[9,4,3,4],[18,8,5,8]]},"legend":{"title":null,"orient":"none","legendX":86.3,"legendY":304,"direction":"vertical","symbolType":"M-1,0H6.2","symbolSize":144,"symbolStrokeWidth":1,"labelFont":"Liberation Serif","labelFontSize":11.3,"labelColor":"#111","labelOffset":35.3,"rowPadding":1.2,"padding":0,"labelLimit":0,"labelExpr":"['','1: Regimen=(I) Pac 175 mg/m2, day 1 Group=CONTINUOUS','2: Regimen=(I) Pac 175 mg/m2, day 1 Group=INTERMITTENT','3: Regimen=(II) Pac 80 mg/m2, day 1,8,15 Group=CONTINUOUS','4: Regimen=(II) Pac 80 mg/m2, day 1,8,15 Group=INTERMITTENT','5: Regimen=(III) Pac 135 mg/m2, day 1 w/Cis Group=CONTINUOUS','6: Regimen=(III) Pac 135 mg/m2, day 1 w/Cis Group=INTERMITTENT'][datum.value]"}},
"order":{"field":"t","type":"quantitative"}}},
{"data":{"name":"kmB"},"transform":[{"filter":"datum.c==1"}],"mark":{"type":"point","shape":"M-1,0H1M0,-1V1","filled":false,"strokeWidth":1,"size":40,"opacity":1},
"encoding":{"x":{"field":"t","type":"quantitative"},"y":{"field":"s","type":"quantitative"},"color":{"field":"g","type":"nominal","legend":null}}},
{"data":{"values":[{}]},"mark":{"type":"text","font":"Liberation Sans","fontSize":14,"align":"center","baseline":"middle","color":"#000"},"encoding":{"x":{"datum":-4.48,"type":"quantitative"},"y":{"datum":1.445,"type":"quantitative"},"text":{"value":"b"}}},
{"data":{"values":[{}]},"mark":{"type":"text","fontSize":14,"fontWeight":"bold","align":"center","baseline":"middle","color":"#111"},"encoding":{"x":{"datum":43.8,"type":"quantitative"},"y":{"datum":1.2115,"type":"quantitative"},"text":{"value":"OS: All Regimens and Groups"}}},
{"data":{"values":[{}]},"mark":{"type":"text","fontSize":11.3,"align":"center","baseline":"middle","color":"#111"},"encoding":{"x":{"datum":43.8,"type":"quantitative"},"y":{"datum":1.13,"type":"quantitative"},"text":{"value":"With Number of Subjects at Risk"}}},
{"data":{"values":[{}]},"mark":{"type":"text","fontSize":11,"align":"left","baseline":"middle","color":"#222"},"encoding":{"x":{"datum":79.6,"type":"quantitative"},"y":{"datum":0.961,"type":"quantitative"},"text":{"value":"+ Censored"}}}
]},
{"data":{"name":"riskB"},"mark":{"type":"text","fontSize":9.5,"baseline":"middle","align":"center"},
"encoding":{"x":{"field":"t","type":"quantitative"},
"y":{"field":"g","type":"quantitative","scale":{"domain":[-12.25,6.5],"reverse":true,"nice":false,"zero":false},"axis":{"orient":"left","offset":-7.6,"values":[1,2,3,4,5,6],"domain":false,"ticks":false,"title":null,"labelOverlap":false,"labelFontSize":13.5,"labelPadding":9.6,"labelColor":{"condition":[{"test":"datum.value==1","value":"#3030f0"},{"test":"datum.value==2","value":"#cc2a3c"},{"test":"datum.value==3","value":"#19807a"},{"test":"datum.value==4","value":"#6e4824"},{"test":"datum.value==5","value":"#b04cf0"}],"value":"#8f9d2e"}}},
"text":{"field":"n","type":"quantitative"},
"color":{"field":"g","type":"nominal","legend":null}}}
]
}
]
}
